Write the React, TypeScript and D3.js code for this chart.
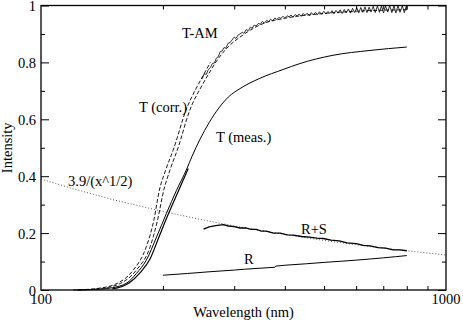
import React, { useEffect, useRef } from 'react'
import * as d3 from 'd3'

// axes
const xMajor = [100, 1000]
const xMinor = [200, 300, 400, 500, 600, 700, 800, 900]
const yMajor = [0, 0.2, 0.4, 0.6, 0.8, 1]
const yMinor = [0.1, 0.3, 0.5, 0.7, 0.9]

// T (meas.) - solid
const tMeas = [
  [123, 0], [140, 0.003], [150, 0.008], [163, 0.025], [172, 0.058], [182, 0.105],
  [193, 0.187], [204, 0.269], [216, 0.35], [229, 0.425], [236, 0.47], [247, 0.53],
  [260, 0.588], [275, 0.64], [290, 0.678], [310, 0.708], [347, 0.744], [396, 0.775],
  [436, 0.796], [526, 0.825], [649, 0.842], [800, 0.854],
]
// second short UV piece of T (meas.)
const tMeas2 = [
  [150, 0.004], [165, 0.025], [176, 0.062], [186, 0.11], [196, 0.19],
  [206, 0.265], [218, 0.345], [231, 0.427],
]

// T (corr.) - dashed, two overlapping pieces
const tCorr = [
  [123, 0], [140, 0.005], [157, 0.023], [172, 0.07], [186, 0.152], [194, 0.246],
  [201, 0.351], [208, 0.42], [218, 0.5], [233, 0.632], [250, 0.72], [262, 0.77],
  [272, 0.807], [290, 0.855], [310, 0.889], [353, 0.936], [400, 0.955], [500, 0.972],
  [600, 0.98], [800, 0.985],
]
const tCorr2 = [
  [120, 0], [137, 0.005], [154, 0.023], [169, 0.07], [182, 0.152], [190, 0.246],
  [196, 0.351], [203, 0.42], [213, 0.5], [228, 0.632], [244, 0.72], [255, 0.77],
  [262, 0.8],
]

// T-AM - noisy solid
const tAm = [
  [250, 0.742], [253, 0.76], [256, 0.758], [259, 0.775], [262, 0.782], [265, 0.796],
  [268, 0.798], [271, 0.815], [274, 0.82], [277, 0.838], [280, 0.84], [283, 0.852],
  [286, 0.85], [290, 0.868], [293, 0.87], [296, 0.878], [300, 0.889], [303, 0.884],
  [307, 0.897], [310, 0.9], [314, 0.906], [317, 0.902], [321, 0.915], [325, 0.912],
  [329, 0.924], [332, 0.92], [336, 0.931], [340, 0.928], [344, 0.937], [348, 0.934],
  [352, 0.944], [356, 0.938], [361, 0.948], [365, 0.943], [369, 0.952], [373, 0.946],
  [378, 0.956], [382, 0.951], [387, 0.958], [391, 0.955], [396, 0.962], [400, 0.956],
  [405, 0.964], [410, 0.96], [414, 0.967], [419, 0.959], [424, 0.968], [429, 0.963],
  [434, 0.97], [439, 0.962], [444, 0.972], [449, 0.965], [454, 0.973], [460, 0.964],
  [465, 0.975], [470, 0.967], [476, 0.976], [482, 0.968], [487, 0.978], [493, 0.969],
  [499, 0.98], [505, 0.97], [511, 0.979], [517, 0.972], [523, 0.982], [529, 0.971],
  [535, 0.983], [541, 0.973], [548, 0.985], [554, 0.972], [561, 0.986], [567, 0.974],
  [574, 0.988], [581, 0.973], [588, 0.99], [595, 0.975], [602, 0.992], [609, 0.974],
  [616, 0.993], [623, 0.976], [631, 0.995], [638, 0.975], [646, 0.994], [653, 0.977],
  [661, 0.997], [669, 0.975], [677, 0.998], [685, 0.976], [693, 0.999], [701, 0.974],
  [709, 0.998], [718, 0.977], [726, 1.0], [735, 0.975], [744, 0.999], [752, 0.974],
  [761, 1.0], [770, 0.976], [780, 0.999], [789, 0.975], [798, 0.998], [800, 0.984],
]

// R+S
const rs = [
  [252, 0.214], [260, 0.222], [270, 0.226], [282, 0.23], [290, 0.225], [300, 0.223],
  [310, 0.218], [320, 0.218], [330, 0.213], [340, 0.213], [350, 0.207], [360, 0.207],
  [375, 0.2], [390, 0.2], [405, 0.194], [420, 0.193], [440, 0.188], [460, 0.186],
  [480, 0.182], [498, 0.181], [520, 0.175], [545, 0.173], [570, 0.166], [600, 0.163],
  [625, 0.157], [650, 0.155], [680, 0.149], [710, 0.147], [740, 0.141], [770, 0.141],
  [800, 0.138],
]

// R
const r = [
  [200, 0.052], [230, 0.058], [260, 0.064], [300, 0.07], [318, 0.073], [378, 0.08],
  [380, 0.084], [400, 0.087], [450, 0.092], [500, 0.097], [550, 0.101], [600, 0.105],
  [650, 0.109], [700, 0.113], [750, 0.117], [800, 0.121],
]

// 3.9/(x^1/2) - dotted
const fit = [
  [100, 0.39], [120, 0.356], [150, 0.318], [200, 0.276], [250, 0.247], [300, 0.225],
  [400, 0.195], [500, 0.174], [600, 0.159], [700, 0.147], [800, 0.138], [900, 0.13],
  [1000, 0.123],
]

const W = 463
const H = 324
const font = "'Liberation Serif', 'Times New Roman', 'DejaVu Serif', serif"

export default function App() {
  const ref = useRef(null)

  useEffect(() => {
    const svg = d3.select(ref.current)
    svg.selectAll('*').remove()

    const left = 41, right = 446, top = 5.5, bottom = 290
    const x = d3.scaleLog().domain([100, 1000]).range([left, right])
    const y = d3.scaleLinear().domain([0, 1]).range([bottom, top])

    const line = d3.line().x(d => x(d[0])).y(d => y(d[1]))
    const smooth = d3.line().x(d => x(d[0])).y(d => y(d[1])).curve(d3.curveMonotoneX)

    const g = svg.append('g')

    // curves
    g.append('path').attr('d', line(fit)).attr('fill', 'none')
      .attr('stroke', '#444').attr('stroke-width', 0.9).attr('stroke-dasharray', '1,2')
    g.append('path').attr('d', smooth(tCorr)).attr('fill', 'none')
      .attr('stroke', '#000').attr('stroke-width', 0.9).attr('stroke-dasharray', '4,2')
    g.append('path').attr('d', smooth(tCorr2)).attr('fill', 'none')
      .attr('stroke', '#000').attr('stroke-width', 0.9).attr('stroke-dasharray', '4,2')
    g.append('path').attr('d', smooth(tMeas)).attr('fill', 'none')
      .attr('stroke', '#000').attr('stroke-width', 1)
    g.append('path').attr('d', smooth(tMeas2)).attr('fill', 'none')
      .attr('stroke', '#000').attr('stroke-width', 1.2)
    g.append('path').attr('d', line(tAm)).attr('fill', 'none')
      .attr('stroke', '#000').attr('stroke-width', 0.8)
    g.append('path').attr('d', line(rs)).attr('fill', 'none')
      .attr('stroke', '#000').attr('stroke-width', 1.3)
    g.append('path').attr('d', line(r)).attr('fill', 'none')
      .attr('stroke', '#000').attr('stroke-width', 1)

    // frame
    svg.append('rect').attr('x', left).attr('y', top)
      .attr('width', right - left).attr('height', bottom - top)
      .attr('fill', 'none').attr('stroke', '#000').attr('stroke-width', 1.3)

    // ticks, inward on all four sides
    const bAxis = d3.axisTop(x).tickValues(xMinor).tickSize(4).tickFormat(() => '')
    const tAxis = d3.axisBottom(x).tickValues(xMinor).tickSize(4).tickFormat(() => '')
    svg.append('g').attr('transform', `translate(0,${bottom})`).call(bAxis)
    svg.append('g').attr('transform', `translate(0,${top})`).call(tAxis)
    const lMaj = d3.axisRight(y).tickValues(yMajor).tickSize(8).tickFormat(() => '')
    const lMin = d3.axisRight(y).tickValues(yMinor).tickSize(4).tickFormat(() => '')
    const rMaj = d3.axisLeft(y).tickValues(yMajor).tickSize(8).tickFormat(() => '')
    const rMin = d3.axisLeft(y).tickValues(yMinor).tickSize(4).tickFormat(() => '')
    svg.append('g').attr('transform', `translate(${left},0)`).call(lMaj)
    svg.append('g').attr('transform', `translate(${left},0)`).call(lMin)
    svg.append('g').attr('transform', `translate(${right},0)`).call(rMaj)
    svg.append('g').attr('transform', `translate(${right},0)`).call(rMin)
    svg.selectAll('.domain').remove()
    svg.selectAll('.tick line').attr('stroke', '#000').attr('stroke-width', 1)

    // tick labels
    svg.append('g').selectAll('text').data(yMajor).enter().append('text')
      .attr('x', left - 5).attr('y', d => y(d)).attr('dy', '0.38em')
      .attr('text-anchor', 'end').text(d => d3.format('~g')(d))
    svg.append('g').selectAll('text').data(xMajor).enter().append('text')
      .attr('x', d => x(d)).attr('y', 304)
      .attr('text-anchor', 'middle').text(d => d)

    // axis titles
    svg.append('text').attr('x', (left + right) / 2).attr('y', 317)
      .attr('text-anchor', 'middle').text('Wavelength (nm)')
    svg.append('text').attr('transform', `translate(12,${(top + bottom) / 2}) rotate(-90)`)
      .attr('text-anchor', 'middle').text('Intensity')

    // curve labels
    svg.append('text').attr('x', 182).attr('y', 38).text('T-AM')
    svg.append('text').attr('x', 139).attr('y', 112).text('T (corr.)')
    svg.append('text').attr('x', 216).attr('y', 142).text('T (meas.)')
    svg.append('text').attr('x', 68).attr('y', 186).text('3.9/(x^1/2)')
    svg.append('text').attr('x', 301).attr('y', 234).text('R+S')
    svg.append('text').attr('x', 244).attr('y', 264).text('R')

    svg.selectAll('text')
      .style('font-family', font)
      .style('font-size', '14.5px')
      .attr('fill', '#000')
  }, [])

  return (
    <svg ref={ref} width={W} height={H}
      style={{ position: 'absolute', left: 0, top: 0, background: '#fff' }} />
  )
}
